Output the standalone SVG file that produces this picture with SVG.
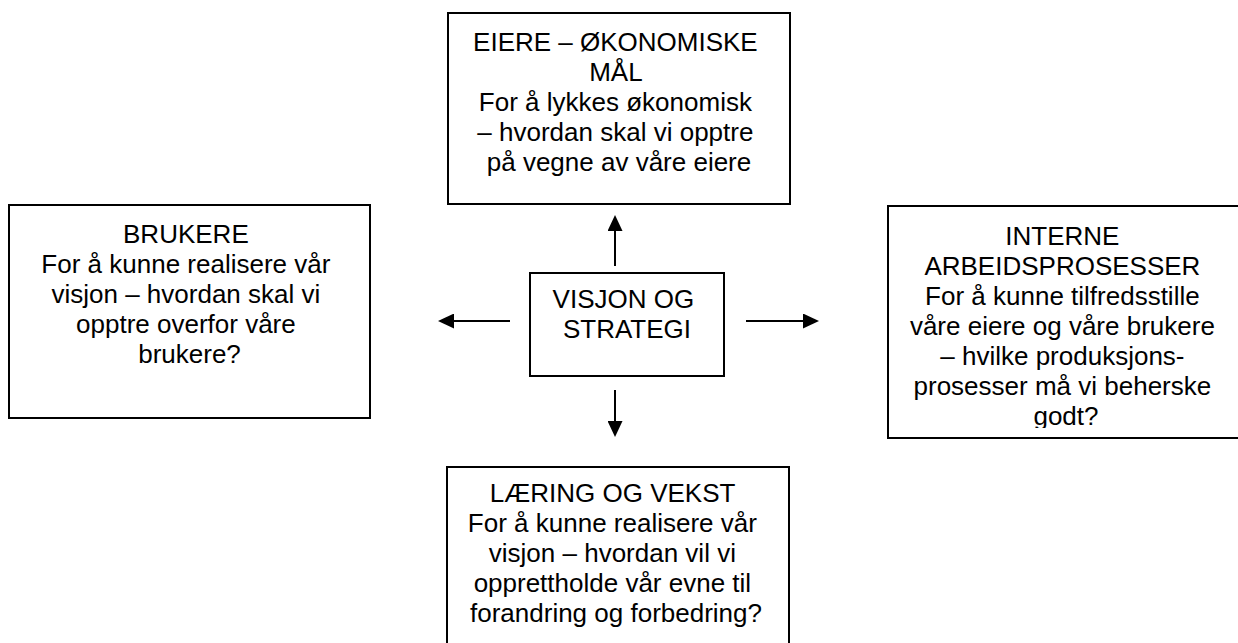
<svg xmlns="http://www.w3.org/2000/svg" width="1238" height="643" viewBox="0 0 1238 643">
<style>
.box{fill:#fff;stroke:#000;stroke-width:2}
.t{font-family:"Liberation Sans",Arial,sans-serif;font-size:26px;fill:#000;text-anchor:middle}
.c{stroke:#000;stroke-width:2;fill:none}
</style>
<defs>
<marker id="ah" markerUnits="userSpaceOnUse" markerWidth="16" markerHeight="15" refX="8" refY="7.5" orient="auto" viewBox="0 0 16 15">
<path d="M0,0 L16,7.5 L0,15 z" fill="#000"/>
</marker>
<clipPath id="clipR"><rect x="888" y="206" width="360" height="222"/></clipPath>
</defs>
<rect width="1238" height="643" fill="#fff"/>
<g id="eiere">
<rect class="box" x="448" y="13" width="342" height="191"/>
<text class="t" x="619">
<tspan x="619" y="50.5">EIERE – ØKONOMISKE</tspan>
<tspan x="619" y="80.5">MÅL</tspan>
<tspan x="619" y="110.5">For å lykkes økonomisk</tspan>
<tspan x="619" y="140.5">– hvordan skal vi opptre</tspan>
<tspan x="619" y="170.5">på vegne av våre eiere</tspan>
</text>
</g>
<g id="brukere">
<rect class="box" x="9" y="205" width="361" height="213"/>
<text class="t">
<tspan x="189.5" y="242.5">BRUKERE</tspan>
<tspan x="189.5" y="272.5">For å kunne realisere vår</tspan>
<tspan x="189.5" y="302.5">visjon – hvordan skal vi</tspan>
<tspan x="189.5" y="332.5">opptre overfor våre</tspan>
<tspan x="189.5" y="362.5">brukere?</tspan>
</text>
</g>
<g id="interne">
<rect class="box" x="888" y="206" width="360" height="232"/>
<text class="t" clip-path="url(#clipR)">
<tspan x="1066" y="245">INTERNE</tspan>
<tspan x="1066" y="275">ARBEIDSPROSESSER</tspan>
<tspan x="1066" y="305">For å kunne tilfredsstille</tspan>
<tspan x="1066" y="335">våre eiere og våre brukere</tspan>
<tspan x="1066" y="365">– hvilke produksjons-</tspan>
<tspan x="1066" y="395">prosesser må vi beherske</tspan>
<tspan x="1066" y="425">godt?</tspan>
</text>
</g>
<g id="visjon">
<rect class="box" x="530" y="273" width="194" height="103"/>
<text class="t">
<tspan x="627" y="308">VISJON OG</tspan>
<tspan x="627" y="338">STRATEGI</tspan>
</text>
</g>
<g id="laering">
<rect class="box" x="447" y="467" width="342" height="190"/>
<text class="t">
<tspan x="616" y="502">LÆRING OG VEKST</tspan>
<tspan x="616" y="532">For å kunne realisere vår</tspan>
<tspan x="616" y="562">visjon – hvordan vil vi</tspan>
<tspan x="616" y="592">opprettholde vår evne til</tspan>
<tspan x="616" y="622">forandring og forbedring?</tspan>
</text>
</g>
<g id="connectors">
<line class="c" x1="615" y1="266" x2="615" y2="223" marker-end="url(#ah)"/>
<line class="c" x1="615" y1="390" x2="615" y2="429" marker-end="url(#ah)"/>
<line class="c" x1="510" y1="321" x2="446" y2="321" marker-end="url(#ah)"/>
<line class="c" x1="746" y1="321" x2="811" y2="321" marker-end="url(#ah)"/>
</g>
</svg>
